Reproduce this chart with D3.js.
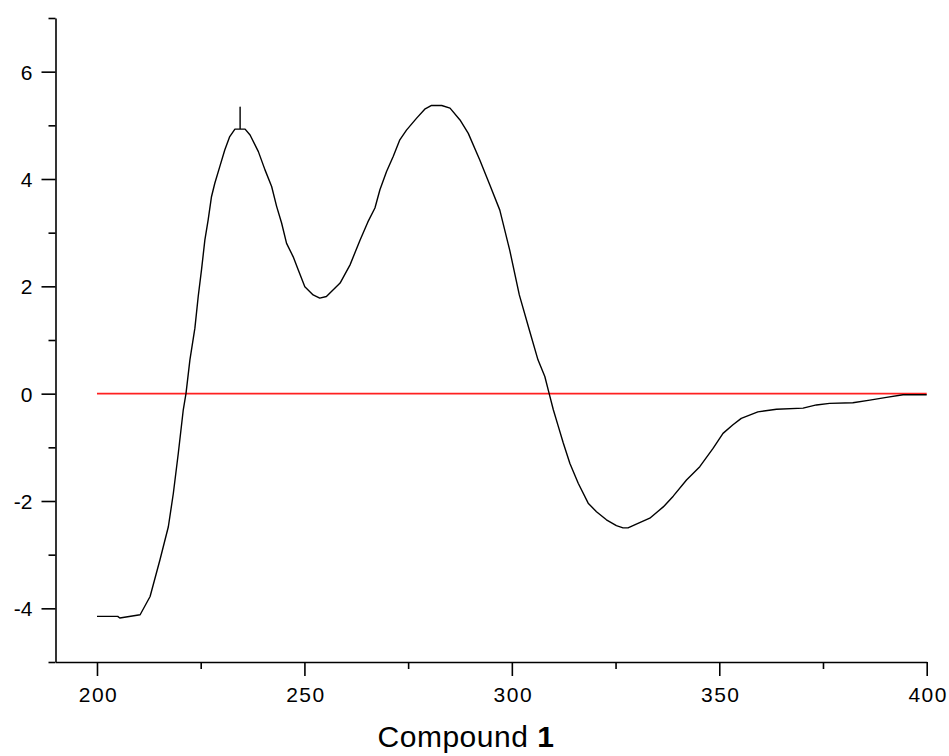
<!DOCTYPE html>
<html>
<head>
<meta charset="utf-8">
<script src="https://cdn.jsdelivr.net/npm/d3@7/dist/d3.min.js"></script>
<style>
  html, body { margin: 0; padding: 0; background: #fff; }
  svg { display: block; }
  text { font-family: "Liberation Sans", Arial, sans-serif; fill: #000; }
</style>
</head>
<body>
<svg id="chart" width="949" height="756"></svg>
<script>
// ---- data ----
const wavelength = [200, 205, 205.5, 210.4, 212.8, 215.2, 217.2, 218.4, 219.6, 220.8, 221.45, 222.4,
  223.6, 224.4, 225.2, 226.0, 226.8, 227.6, 228.4, 229.6, 230.8, 232.0, 233.25, 234.5, 234.5, 234.5, 235.7,
  236.9, 238.9, 240.5, 242.1, 243.3, 244.5, 245.7, 247.3, 248.5, 250.1, 252.1, 253.7, 255.3,
  258.6, 261.0, 263.4, 265.3, 267.0, 268.2, 269.8, 271.4, 273.0, 274.6, 277.0, 279.0, 280.65,
  283.1, 285.1, 287.5, 289.5, 292.3, 294.7, 297.1, 299.5, 301.8, 304.2, 306.3, 307.95, 309.0,
  310.0, 311.2, 312.4, 314.0, 316.0, 318.4, 320.4, 322.8, 325.2, 326.8, 328.0, 330.0, 333.25,
  336.5, 338.9, 342.1, 345.3, 348.5, 350.9, 353.3, 355.3, 359.3, 363.8, 370.2, 373.4, 376.6,
  382.2, 386.3, 390.3, 394.3, 400];
const cdSignal = [-4.15, -4.15, -4.18, -4.12, -3.78, -3.09, -2.48, -1.86, -1.11, -0.30, 0.0, 0.63,
  1.22, 1.81, 2.31, 2.86, 3.24, 3.67, 3.92, 4.23, 4.54, 4.79, 4.93, 4.93, 5.34, 4.93, 4.93,
  4.82, 4.51, 4.17, 3.86, 3.49, 3.18, 2.80, 2.55, 2.31, 1.99, 1.84, 1.78, 1.81,
  2.06, 2.40, 2.86, 3.20, 3.46, 3.80, 4.14, 4.42, 4.73, 4.91, 5.13, 5.30, 5.37,
  5.37, 5.32, 5.10, 4.85, 4.35, 3.89, 3.42, 2.67, 1.84, 1.19, 0.63, 0.32, 0.0,
  -0.30, -0.61, -0.92, -1.30, -1.67, -2.04, -2.20, -2.35, -2.46, -2.50, -2.50, -2.43, -2.32,
  -2.11, -1.91, -1.61, -1.36, -1.02, -0.74, -0.58, -0.46, -0.34, -0.29, -0.27, -0.21, -0.18,
  -0.17, -0.12, -0.07, -0.02, -0.02];
const baselineX = [200, 400];
const baselineY = [0, 0];
const xMajorTicks = [200, 250, 300, 350, 400];
const xMinorTicks = [225, 275, 325, 375];
const yMajorTicks = [-4, -2, 0, 2, 4, 6];
const yMinorTicks = [-5, -3, -1, 1, 3, 5, 7];
const xDomain = [190, 400];
const yDomain = [-5, 7];
const xTitle = "Compound ";
const xTitleBold = "1";

// ---- layout ----
const svg = d3.select("#chart");
const x = d3.scaleLinear().domain(xDomain).range([55.5, 926.7]);
const y = d3.scaleLinear().domain(yDomain).range([662, 18]);
const fmt = d => String(d);   // plain hyphen-minus like the reference

const axisColor = "#000";

// x axis
const gx = svg.append("g").attr("transform", "translate(0,662)");
gx.call(d3.axisBottom(x).tickValues(xMajorTicks).tickSize(14).tickSizeOuter(0).tickFormat(fmt));
gx.select(".domain").attr("stroke", axisColor).attr("stroke-width", 1.6);
gx.selectAll(".tick line").attr("stroke", axisColor).attr("stroke-width", 1.6);
gx.selectAll(".tick text").attr("y", 0).attr("dy", 0)
  .attr("transform", "translate(1,40)")
  .style("font-size", "21px").style("letter-spacing", "1.5px")
  .attr("font-family", null);
const gxMinor = svg.append("g").attr("transform", "translate(0,662)");
gxMinor.call(d3.axisBottom(x).tickValues(xMinorTicks).tickSize(7).tickSizeOuter(0).tickFormat(""));
gxMinor.select(".domain").remove();
gxMinor.selectAll(".tick line").attr("stroke", axisColor).attr("stroke-width", 1.6);

// y axis
const gy = svg.append("g").attr("transform", "translate(55.5,0)");
gy.call(d3.axisLeft(y).tickValues(yMajorTicks).tickSize(14).tickSizeOuter(0).tickFormat(fmt));
gy.select(".domain").attr("stroke", axisColor).attr("stroke-width", 1.6);
gy.selectAll(".tick line").attr("stroke", axisColor).attr("stroke-width", 1.6);
gy.selectAll(".tick text").attr("x", -23).attr("dy", "0.36em")
  .style("font-size", "21px")
  .attr("font-family", null);
const gyMinor = svg.append("g").attr("transform", "translate(55.5,0)");
gyMinor.call(d3.axisLeft(y).tickValues(yMinorTicks).tickSize(7).tickSizeOuter(0).tickFormat(""));
gyMinor.select(".domain").remove();
gyMinor.selectAll(".tick line").attr("stroke", axisColor).attr("stroke-width", 1.6);

// red baseline
const baseData = baselineX.map((v, i) => [v, baselineY[i]]);
svg.append("path")
  .datum(baseData)
  .attr("fill", "none")
  .attr("stroke", "#ff2020")
  .attr("stroke-width", 1.6)
  .attr("d", d3.line().x(d => x(d[0])).y(d => y(d[1])));

// CD curve
const cdData = wavelength.map((v, i) => [v, cdSignal[i]]);
svg.append("path")
  .datum(cdData)
  .attr("fill", "none")
  .attr("stroke", "#000")
  .attr("stroke-width", 1.4)
  .attr("stroke-linejoin", "round")
  .attr("d", d3.line().x(d => x(d[0])).y(d => y(d[1])));

// x title
const title = svg.append("text")
  .attr("x", 466)
  .attr("y", 747)
  .attr("text-anchor", "middle")
  .style("font-size", "30px")
  .style("letter-spacing", "0.5px");
title.append("tspan").text(xTitle);
title.append("tspan").style("font-weight", "bold").text(xTitleBold);
</script>
</body>
</html>
